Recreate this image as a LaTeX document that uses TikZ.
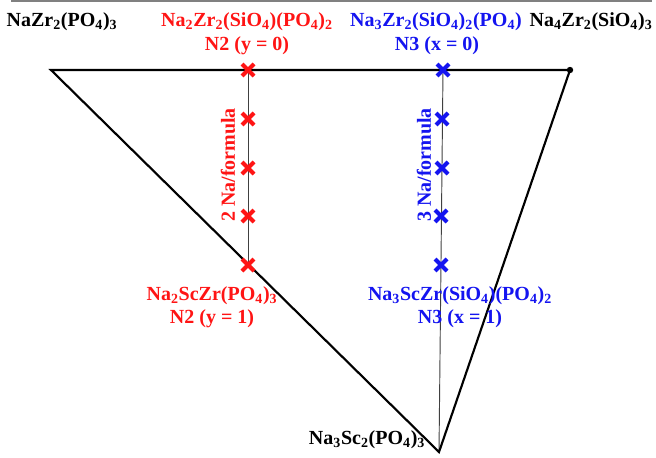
\documentclass[tikz,border=0pt]{standalone}
\usepackage{fontspec}
\setmainfont{Liberation Serif}
\usetikzlibrary{shapes.misc,backgrounds}
\newcommand{\chsub}[1]{\textsubscript{#1}}
\definecolor{nred}{RGB}{255,20,20}
\definecolor{nblue}{RGB}{20,20,240}
\tikzset{
    lbl/.style={font=\fontsize{15}{17}\selectfont\bfseries, inner sep=0pt},
    mark2/.style={cross out, draw=nred, line width=3pt, minimum size=6pt, inner sep=0pt},
    mark3/.style={cross out, draw=nblue, line width=3pt, minimum size=6pt, inner sep=0pt},
    edge/.style={line width=1.6pt},
    tie/.style={line width=0.7pt, black!75}
}
\begin{document}
\begin{tikzpicture}[x=0.75pt, y=-0.75pt]
    \useasboundingbox (0,0) rectangle (656,457);
    % rule at the top
    \draw[gray, line width=1.4pt] (11,1) -- (652,1);

    % corners of the triangle
    \coordinate (NZP) at (51,70);
    \coordinate (NZS) at (570,70);
    \coordinate (NSP) at (439,452);

    % N2 series (red)
    \foreach \i/\y in {0/70, 1/119, 2/168, 3/216, 4/265}
        \node[mark2] (r\i) at (248,\y) {};
    % N3 series (blue)
    \foreach \i/\x/\y in {0/443/70, 1/442/119, 2/442/168, 3/441/216, 4/441/265}
        \node[mark3] (b\i) at (\x,\y) {};

    % lines go under the crosses
    \begin{pgfonlayer}{background}
    \draw[tie] (r0.center) -- (r4.center);
    \draw[tie] (b0.center) -- (NSP);
    \draw[edge] (NZP) -- (NZS) -- (NSP) -- cycle;
    \fill (NZS) circle (3.2);
    \end{pgfonlayer}

    % end members
    \node[lbl] (tNZP) at (62,22) {NaZr\chsub{2}(PO\chsub{4})\chsub{3}};
    \node[lbl] (tNZS) at (591,22) {Na\chsub{4}Zr\chsub{2}(SiO\chsub{4})\chsub{3}};
    \node[lbl] (tNSP) at (367,440) {Na\chsub{3}Sc\chsub{2}(PO\chsub{4})\chsub{3}};

    % N2 labels
    \node[lbl, nred] (tr0) at (247,22) {Na\chsub{2}Zr\chsub{2}(SiO\chsub{4})(PO\chsub{4})\chsub{2}};
    \node[lbl, nred] (tr0b) at (247,46) {N2 (y = 0)};
    \node[lbl, nred] (tr4) at (212,296) {Na\chsub{2}ScZr(PO\chsub{4})\chsub{3}};
    \node[lbl, nred] (tr4b) at (212,319) {N2 (y = 1)};
    \node[lbl, nred, rotate=90] (tr) at (228,165) {2 Na/formula};

    % N3 labels
    \node[lbl, nblue] (tb0) at (436,22) {Na\chsub{3}Zr\chsub{2}(SiO\chsub{4})\chsub{2}(PO\chsub{4})};
    \node[lbl, nblue] (tb0b) at (437,46) {N3 (x = 0)};
    \node[lbl, nblue] (tb4) at (460,296) {Na\chsub{3}ScZr(SiO\chsub{4})(PO\chsub{4})\chsub{2}};
    \node[lbl, nblue] (tb4b) at (460,319) {N3 (x = 1)};
    \node[lbl, nblue, rotate=90] (tb) at (424,165) {3 Na/formula};
\end{tikzpicture}
\end{document}
